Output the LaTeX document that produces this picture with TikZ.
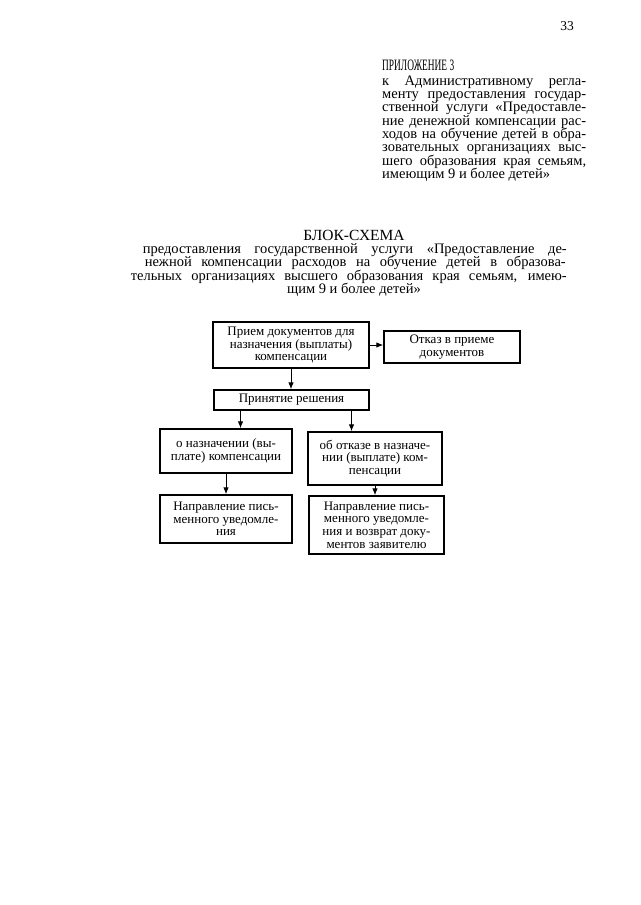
\documentclass[tikz,border=0pt]{standalone}
\usepackage{fontspec}
\setmainfont{Liberation Serif}
\usetikzlibrary{arrows.meta}
\newcommand\mytightlines{\lineskiplimit=-20pt\relax}
\tikzset{
  box/.style={draw, line width=1.3pt, rectangle, align=center, inner sep=2pt,
    font=\fontsize{13}{12.6}\selectfont\mytightlines},
  arr/.style={line width=1pt, -{Latex[length=7pt,width=5.5pt]}},
  hdr/.style={inner sep=0pt, font=\fontsize{14.5}{13.3}\selectfont\mytightlines},
}
\begin{document}
\begin{tikzpicture}[x=1pt,y=-1pt]
\useasboundingbox[fill=white] (0,0) rectangle (640,905);

% page number
\node[hdr, anchor=base, font=\fontsize{13.5}{14}\selectfont] (pg) at (567,30) {33};

% appendix header
\node[hdr, anchor=base west] (app) at (382,70.5) {\resizebox{72pt}{10.5pt}{ПРИЛОЖЕНИЕ 3}};
\node[hdr, anchor=north west, align=left] (apptext) at (382,75.5) {%
\hbox to 204pt{к Административному регла-}\\
\hbox to 204pt{менту предоставления государ-}\\
\hbox to 204pt{ственной услуги «Предоставле-}\\
\hbox to 204pt{ние денежной компенсации рас-}\\
\hbox to 204pt{ходов на обучение детей в обра-}\\
\hbox to 204pt{зовательных организациях выс-}\\
\hbox to 204pt{шего образования края семьям,}\\
имеющим 9 и более детей»};

% title
\node[hdr, anchor=base, font=\fontsize{15.5}{15}\selectfont] (title) at (354,240) {БЛОК-СХЕМА};
\node[hdr, anchor=base east] (s1) at (567,253) {\hbox to 424pt{предоставления государственной услуги «Предоставление де-}};
\node[hdr, anchor=base east] (s2) at (566,266.5) {\hbox to 421pt{нежной компенсации расходов на обучение детей в образова-}};
\node[hdr, anchor=base east] (s3) at (567,280) {\hbox to 436pt{тельных организациях высшего образования края семьям, имею-}};
\node[hdr, anchor=base] (s4) at (354,293.5) {щим 9 и более детей»};

% boxes
\node[box, minimum width=156pt, minimum height=46pt] (b1) at (291,345) {Прием документов для\\назначения (выплаты)\\компенсации};
\node[box, minimum width=136pt, minimum height=32pt] (b2) at (452,347) {Отказ в приеме\\документов};
\node[box, minimum width=155pt, minimum height=20pt] (b3) at (291.5,400) {Принятие решения};
\node[box, minimum width=132pt, minimum height=44pt] (b4) at (226,451) {о назначении (вы-\\плате) компенсации};
\node[box, minimum width=132pt, minimum height=48pt] (b5) at (226,519) {Направление пись-\\менного уведомле-\\ния};
\node[box, minimum width=134pt, minimum height=53pt] (b6) at (375,458.5) {об отказе в назначе-\\нии (выплате) ком-\\пенсации};
\node[box, minimum width=135pt, minimum height=58pt] (b7) at (376.5,525) {Направление пись-\\менного уведомле-\\ния и возврат доку-\\ментов заявителю};

% connectors
\draw[arr] (b1.east) -- (b2.west |- b1.east);
\draw[arr] (b1.south) -- (b1.south |- b3.north);
\draw[arr] ([xshift=-51pt]b3.south) -- ([xshift=-51pt]b3.south |- b4.north);
\draw[arr] ([xshift=60pt]b3.south) -- ([xshift=60pt]b3.south |- b6.north);
\draw[arr] (b4.south) -- (b5.north);
\draw[arr] (b6.south) -- (b6.south |- b7.north);
\end{tikzpicture}
\end{document}
